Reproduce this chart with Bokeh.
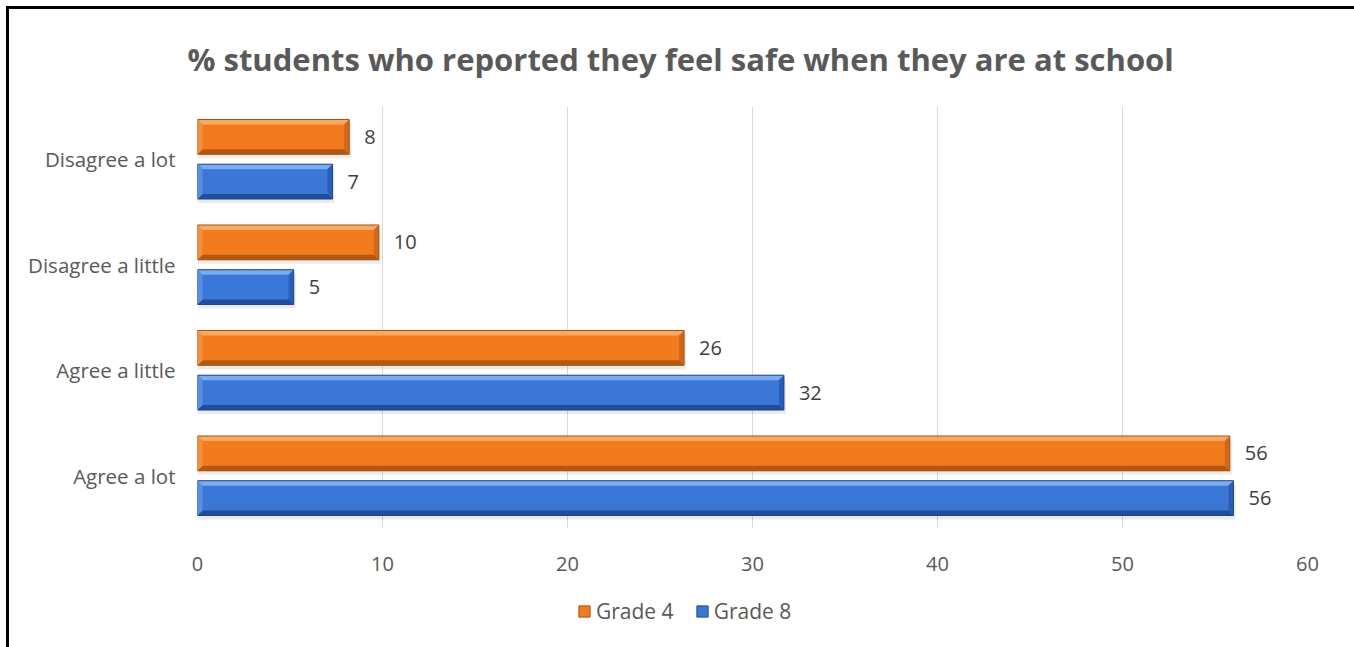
from bokeh.plotting import figure
from bokeh.layouts import column
from bokeh.models import (Range1d, FixedTicker, Legend, LegendItem,
                          ColumnDataSource, LabelSet)
from bokeh.core.properties import value
from bokeh.embed import file_html
from bokeh.resources import INLINE

# ---- data ----
categories = ["Agree a lot", "Agree a little", "Disagree a little", "Disagree a lot"]
series_names = ["Grade 4", "Grade 8"]
grade4 = [55.8, 26.3, 9.8, 8.2]
grade8 = [56.0, 31.7, 5.2, 7.3]
x_ticks = [0, 10, 20, 30, 40, 50, 60]
title_text = "% students who reported they feel safe when they are at school"

FONT = "Open Sans"
W = 1345
p = figure(width=W, height=580, output_backend="svg", toolbar_location=None,
           x_range=Range1d(0, 60), y_range=Range1d(-0.5, len(categories) - 0.5),
           min_border_left=188, min_border_right=47, min_border_top=96, min_border_bottom=61,
           title=title_text)
p.title.text_font = FONT
p.title.text_font_style = "bold"
p.title.text_font_size = "31px"
p.title.text_color = "#595959"
p.title.align = "left"
p.title.offset = -10
p.title.standoff = 53
p.outline_line_color = None
p.background_fill_color = "white"
p.border_fill_color = "white"

# grid
p.ygrid.grid_line_color = None
p.xgrid.grid_line_color = "#D9D9D9"
p.xgrid.grid_line_width = 1
p.xgrid.ticker = FixedTicker(ticks=x_ticks)

# axes
p.xaxis.ticker = FixedTicker(ticks=x_ticks)
p.xaxis.axis_line_color = None
p.xaxis.major_tick_line_color = None
p.xaxis.minor_tick_line_color = None
p.xaxis.major_tick_out = 0
p.xaxis.major_tick_in = 0
p.xaxis.major_label_standoff = 28
p.xaxis.major_label_text_font = FONT
p.xaxis.major_label_text_font_size = "20px"
p.xaxis.major_label_text_color = "#595959"

ypos = list(range(len(categories)))
p.yaxis.ticker = FixedTicker(ticks=ypos)
p.yaxis.major_label_overrides = {i: c for i, c in zip(ypos, categories)}
p.yaxis.axis_line_color = None
p.yaxis.major_tick_line_color = None
p.yaxis.minor_tick_line_color = None
p.yaxis.major_tick_out = 0
p.yaxis.major_tick_in = 0
p.yaxis.major_label_standoff = 22
p.yaxis.major_label_text_font = FONT
p.yaxis.major_label_text_font_size = "20.5px"
p.yaxis.major_label_text_color = "#595959"

bar_h = 0.33
offset = 0.212
px_x = 1110 / 60.0   # px per x unit
px_y = 423 / 4.0     # px per y unit
bx = 5 / px_x
by = 5 / px_y

def bevel_bar(vals, dy, face, top, bottom, left, right, edge):
    ys = [y + dy for y in ypos]
    # soft shadow
    p.hbar(y=[y - 4 / px_y for y in ys], left=0, right=[v + 2 / px_x for v in vals],
           height=bar_h, fill_color="#000000", fill_alpha=0.08, line_color=None)
    r = p.hbar(y=ys, left=0, right=vals, height=bar_h, fill_color=face, line_color=None)
    tx, ty, bxs, bys, lx, ly, rx, ry = [], [], [], [], [], [], [], []
    for v, y in zip(vals, ys):
        t = y + bar_h / 2
        b = y - bar_h / 2
        tx.append([0, v, v - bx, bx]); ty.append([t, t, t - by, t - by])
        bxs.append([0, v, v - bx, bx]); bys.append([b, b, b + by, b + by])
        lx.append([0, bx, bx, 0]); ly.append([b, b + by, t - by, t])
        rx.append([v, v - bx, v - bx, v]); ry.append([b, b + by, t - by, t])
    p.patches(tx, ty, fill_color=top, line_color=None)
    p.patches(bxs, bys, fill_color=bottom, line_color=None)
    p.patches(lx, ly, fill_color=left, line_color=None)
    p.patches(rx, ry, fill_color=right, line_color=None)
    p.hbar(y=ys, left=0, right=vals, height=bar_h, fill_color=None, line_color=edge, line_width=1)
    src = ColumnDataSource(dict(x=vals, y=ys, t=[str(round(v)) for v in vals]))
    p.add_layout(LabelSet(x="x", y="y", text="t", source=src, x_offset=15,
                          text_align="left", text_baseline="middle",
                          text_font=value(FONT), text_font_size=value("20px"),
                          text_color="#404040"))
    return r

colors4 = ("#F27B1E", "#F9AA62", "#B45710", "#F58F3C", "#D2661A", "#A9520F")
colors8 = ("#3A77D7", "#79ADF1", "#1F4C9B", "#5490E6", "#2A5DB5", "#1E4790")
bevel_bar(grade4, offset, *colors4)
bevel_bar(grade8, -offset, *colors8)

# ---- legend strip below the chart ----
leg = figure(width=W, height=58, output_backend="svg", toolbar_location=None,
             x_range=Range1d(0, 1), y_range=Range1d(0, 1),
             x_axis_type=None, y_axis_type=None, min_border=0)
leg.outline_line_color = None
leg.grid.grid_line_color = None
leg.background_fill_color = "white"
leg.border_fill_color = "white"
# legend proxies, kept outside the visible range of this strip
proxy = ColumnDataSource(dict(x=[-5.0], y=[-5.0]))
lr4 = leg.rect(x="x", y="y", width=0.1, height=0.1, source=proxy,
               fill_color=colors4[0], line_color=colors4[5])
lr8 = leg.rect(x="x", y="y", width=0.1, height=0.1, source=proxy,
               fill_color=colors8[0], line_color=colors8[5])
legend = Legend(items=[LegendItem(label=series_names[0], renderers=[lr4]),
                       LegendItem(label=series_names[1], renderers=[lr8])],
                orientation="horizontal", location=(380, 22),
                label_text_font=FONT, label_text_font_size="21px",
                label_text_color="#595959", glyph_width=14, glyph_height=14,
                spacing=21, label_standoff=5, border_line_color=None,
                background_fill_alpha=0, padding=0, margin=0)
leg.add_layout(legend, "center")

page = column(p, leg, spacing=0)
page.styles = {"border-left": "3px solid black", "border-top": "3px solid black",
               "border-right": "3px solid black", "margin-left": "6px", "margin-top": "6px"}

open("out.html", "w").write(file_html(page, INLINE))
